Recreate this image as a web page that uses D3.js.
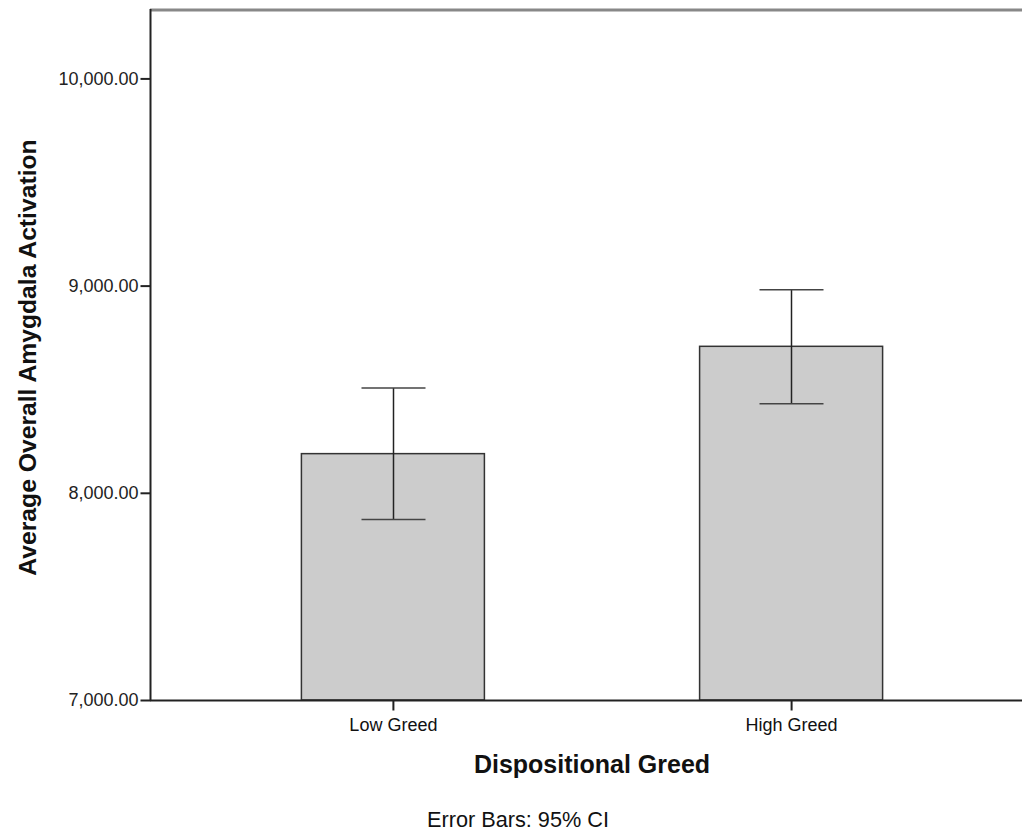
<!DOCTYPE html>
<html>
<head>
<meta charset="utf-8">
<script src="https://cdn.jsdelivr.net/npm/d3@7"></script>
<style>
  html, body { margin: 0; padding: 0; background: #fff; }
  svg { display: block; font-family: "Liberation Sans", Arial, sans-serif; }
</style>
</head>
<body>
<svg id="chart" width="1022" height="832"></svg>
<script>
// ---- data ----
const categories = ["Low Greed", "High Greed"];
const means = [8189, 8707];
const ciLower = [7871, 8430];
const ciUpper = [8506, 8980];
const yTicks = [7000, 8000, 9000, 10000];
const yDomain = [7000, 10335];
const yTitle = "Average Overall Amygdala Activation";
const xTitle = "Dispositional Greed";
const footnote = "Error Bars: 95% CI";

// ---- layout ----
const W = 1022, H = 832;
const plotLeft = 150, plotRight = 1034, plotTop = 9, plotBottom = 700;

const svg = d3.select("#chart");

const x = d3.scalePoint().domain(categories).range([plotLeft, plotRight]).padding(0.61);
const y = d3.scaleLinear().domain(yDomain).range([plotBottom, plotTop]);
const barW = 183;
const capHalf = 32;

// bars
svg.append("g").selectAll("rect")
  .data(categories)
  .join("rect")
  .attr("x", d => x(d) - barW / 2)
  .attr("y", (d, i) => y(means[i]))
  .attr("width", barW)
  .attr("height", (d, i) => y(yDomain[0]) - y(means[i]))
  .attr("fill", "#cccccc")
  .attr("stroke", "#333")
  .attr("stroke-width", 1.5);

// error bars
const eb = svg.append("g").attr("stroke", "#222").attr("stroke-width", 1.5);
categories.forEach((c, i) => {
  const cx = Math.round(x(c)) + 0.5;
  eb.append("line").attr("x1", cx).attr("x2", cx).attr("y1", y(ciLower[i])).attr("y2", y(ciUpper[i]));
  eb.append("line").attr("x1", cx - capHalf).attr("x2", cx + capHalf).attr("y1", y(ciLower[i])).attr("y2", y(ciLower[i])).attr("stroke", "#444");
  eb.append("line").attr("x1", cx - capHalf).attr("x2", cx + capHalf).attr("y1", y(ciUpper[i])).attr("y2", y(ciUpper[i])).attr("stroke", "#444");
});

// top frame line
svg.append("line")
  .attr("x1", plotLeft).attr("x2", W)
  .attr("y1", plotTop + 1).attr("y2", plotTop + 1)
  .attr("stroke", "#888").attr("stroke-width", 3);

// y axis
const yAxis = svg.append("g")
  .attr("transform", `translate(${plotLeft + 0.5},0)`)
  .call(d3.axisLeft(y).tickValues(yTicks).tickFormat(d3.format(",.2f")).tickSize(10).tickPadding(2).tickSizeOuter(0));
yAxis.select(".domain").remove();
yAxis.append("line").attr("x1", 0).attr("x2", 0).attr("y1", plotTop).attr("y2", plotBottom + 1)
  .attr("stroke", "#222").attr("stroke-width", 2);
yAxis.selectAll(".tick line").attr("stroke", "#222").attr("stroke-width", 2);
yAxis.selectAll(".tick text").attr("font-size", 18).attr("fill", "#222")
  .attr("font-family", "'Liberation Sans', Arial, sans-serif");

// x axis
const xAxis = svg.append("g")
  .attr("transform", `translate(0,${plotBottom + 0.5})`)
  .call(d3.axisBottom(x).tickSize(10).tickPadding(8).tickSizeOuter(0));
xAxis.select(".domain").remove();
xAxis.append("line").attr("x1", plotLeft).attr("x2", W).attr("y1", 0).attr("y2", 0)
  .attr("stroke", "#222").attr("stroke-width", 2);
xAxis.selectAll(".tick line").attr("stroke", "#222").attr("stroke-width", 2);
xAxis.selectAll(".tick text").attr("font-size", 18).attr("fill", "#111")
  .attr("font-family", "'Liberation Sans', Arial, sans-serif");

// titles
svg.append("text")
  .attr("transform", `translate(36,${(plotTop + plotBottom) / 2 + 3}) rotate(-90)`)
  .attr("text-anchor", "middle")
  .attr("font-weight", "bold").attr("font-size", 24.7).attr("fill", "#111")
  .text(yTitle);

svg.append("text")
  .attr("x", (plotLeft + plotRight) / 2).attr("y", 773)
  .attr("text-anchor", "middle")
  .attr("font-weight", "bold").attr("font-size", 25).attr("fill", "#111")
  .text(xTitle);

svg.append("text")
  .attr("x", 518).attr("y", 827)
  .attr("text-anchor", "middle")
  .attr("font-size", 21.7).attr("fill", "#111")
  .text(footnote);
</script>
</body>
</html>
